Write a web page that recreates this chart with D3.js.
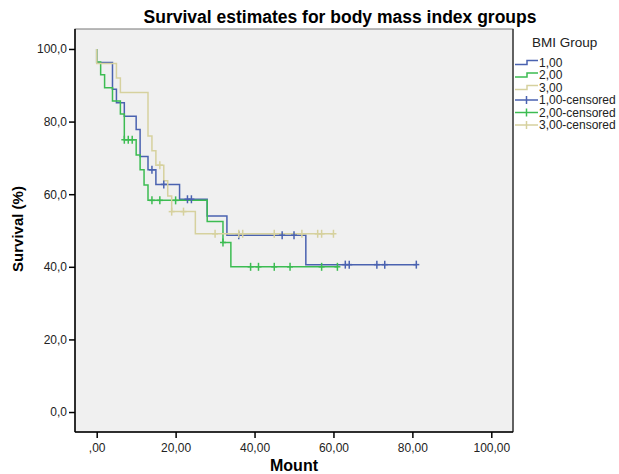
<!DOCTYPE html>
<html>
<head>
<meta charset="utf-8">
<script src="https://cdn.jsdelivr.net/npm/d3@7"></script>
<style>
  html, body { margin: 0; padding: 0; background: #fff; }
  svg { display: block; font-family: "Liberation Sans", Arial, sans-serif; }
</style>
</head>
<body>
<div id="chart"></div>
<script>
// Kaplan-Meier steps (months, survival %)
const groups = ["1,00", "2,00", "3,00"];

const blueTimes = [0, 4, 5, 7, 10, 11, 13, 15, 21, 28, 33, 53];
const blueSurv = [96.3, 88.9, 85.2, 81.5, 77.8, 70.4, 66.7, 62.7, 58.6, 54.0, 48.7, 40.6];
const blueCensored = [14, 17, 23, 24, 36, 47, 50, 63, 64, 71, 73, 81];
const blueEnd = 81;

const greenTimes = [0, 1, 2, 4, 6, 7, 10, 11, 12, 13, 28, 32, 34];
const greenSurv = [96.4, 92.9, 89.3, 85.7, 82.1, 75.0, 70.8, 66.7, 62.5, 58.3, 52.5, 46.7, 40.0];
const greenCensored = [7, 8, 9, 14, 16, 20, 32, 39, 41, 45, 49, 57, 61];
const greenEnd = 61;

const beigeTimes = [0, 5, 6, 13, 14, 15, 17, 18, 19, 25];
const beigeSurv = [96.0, 92.0, 88.0, 76.0, 72.0, 68.0, 63.7, 59.5, 55.2, 49.1];
const beigeCensored = [16, 19, 22, 30, 36, 37, 45, 52, 56, 57, 60];
const beigeEnd = 60;

const xTicks = [0, 20, 40, 60, 80, 100];
const yTicks = [0, 20, 40, 60, 80, 100];

const colors = ["#4a62b0", "#3cbc52", "#d6d19e"];

const series = [
    { name: groups[0], times: blueTimes, surv: blueSurv, censored: blueCensored, end: blueEnd, color: colors[0] },
    { name: groups[1], times: greenTimes, surv: greenSurv, censored: greenCensored, end: greenEnd, color: colors[1] },
    { name: groups[2], times: beigeTimes, surv: beigeSurv, censored: beigeCensored, end: beigeEnd, color: colors[2] }
];

const width = 619, height = 474;
const plot = { left: 75, right: 513, top: 29, bottom: 432 };

const svg = d3.select("#chart").append("svg")
    .attr("width", width)
    .attr("height", height);

const x = d3.scaleLinear().domain([-5.5, 105.5]).range([plot.left, plot.right]);
const y = d3.scaleLinear().domain([-5.5, 105.5]).range([plot.bottom, plot.top]);

// plot background + frame
svg.append("rect")
    .attr("x", plot.left)
    .attr("y", plot.top)
    .attr("width", plot.right - plot.left)
    .attr("height", plot.bottom - plot.top)
    .attr("fill", "#f0f0f0")
    .attr("stroke", "#777")
    .attr("stroke-width", 1);

svg.append("line")
    .attr("x1", plot.right).attr("x2", plot.right)
    .attr("y1", plot.top).attr("y2", plot.bottom)
    .attr("stroke", "#444").attr("stroke-width", 1.5);

// Title
svg.append("text")
    .attr("x", 340)
    .attr("y", 23)
    .attr("text-anchor", "middle")
    .attr("font-size", 17.5)
    .attr("font-weight", "bold")
    .text("Survival estimates for body mass index groups");

// Axes
const xAxis = d3.axisBottom(x)
    .tickValues(xTicks)
    .tickSize(6)
    .tickFormat(d => d === 0 ? ",00" : d.toFixed(2).replace(".", ","));

svg.append("g")
    .attr("transform", `translate(0,${plot.bottom})`)
    .call(xAxis)
    .call(g => g.select(".domain").attr("stroke", "#000").attr("stroke-width", 1.5)
        .attr("d", `M${plot.left},0H${plot.right}`))
    .call(g => g.selectAll(".tick line").attr("stroke", "#000").attr("stroke-width", 1.5))
    .call(g => g.selectAll(".tick text").attr("fill", "#222").attr("font-size", 12)
        .attr("font-family", "Liberation Sans, Arial, sans-serif").attr("dy", "0.95em"));

const yAxis = d3.axisLeft(y)
    .tickValues(yTicks)
    .tickSize(6)
    .tickFormat(d => d.toFixed(1).replace(".", ","));

svg.append("g")
    .attr("transform", `translate(${plot.left},0)`)
    .call(yAxis)
    .call(g => g.select(".domain").attr("stroke", "#000").attr("stroke-width", 1.5)
        .attr("d", `M0,${plot.top}V${plot.bottom}`))
    .call(g => g.selectAll(".tick line").attr("stroke", "#000").attr("stroke-width", 1.5))
    .call(g => g.selectAll(".tick text").attr("fill", "#222").attr("font-size", 12)
        .attr("font-family", "Liberation Sans, Arial, sans-serif").attr("x", -8));

// Axis titles
svg.append("text")
    .attr("x", plot.left + (plot.right - plot.left) / 2)
    .attr("y", 471)
    .attr("text-anchor", "middle")
    .attr("font-size", 16)
    .attr("font-weight", "bold")
    .text("Mount");

svg.append("text")
    .attr("transform", `translate(23,229) rotate(-90)`)
    .attr("text-anchor", "middle")
    .attr("font-size", 15)
    .attr("font-weight", "bold")
    .text("Survival (%)");

// Step curves
const line = d3.line()
    .x(d => x(d[0]))
    .y(d => y(d[1]))
    .curve(d3.curveStepAfter);

const survAt = (s, t) => {
    const i = d3.bisectRight(s.times, t) - 1;
    return i < 0 ? 100 : s.surv[i];
};

series.forEach(s => {
    const pts = [[0, 100]];
    s.times.forEach((t, i) => pts.push([t, s.surv[i]]));
    pts.push([s.end, s.surv[s.surv.length - 1]]);

    svg.append("path")
        .datum(pts)
        .attr("fill", "none")
        .attr("stroke", s.color)
        .attr("stroke-width", 1.5)
        .attr("d", line);
});

// Censored marks (+)
series.forEach(s => {
    const g = svg.append("g").attr("stroke", s.color).attr("stroke-width", 1.5);
    s.censored.forEach(c => {
        const cx = x(c), cy = y(survAt(s, c));
        g.append("line").attr("x1", cx).attr("x2", cx).attr("y1", cy - 4).attr("y2", cy + 4);
        g.append("line").attr("x1", cx - 3).attr("x2", cx + 3).attr("y1", cy).attr("y2", cy);
    });
});

// Legend
const legend = svg.append("g").attr("font-size", 12);
legend.append("text")
    .attr("x", 532)
    .attr("y", 47)
    .attr("font-size", 13.5)
    .attr("fill", "#222")
    .text("BMI Group");

const legendItems = series.map(s => ({ label: s.name, color: s.color, type: "line" }))
    .concat(series.map(s => ({ label: s.name + "-censored", color: s.color, type: "censor" })));

legendItems.forEach((it, i) => {
    const cy = 62.5 + i * 12.5;
    const g = legend.append("g");
    if (it.type === "line") {
        g.append("path")
            .attr("d", `M515,${cy + 2}H527V${cy - 2}H538`)
            .attr("fill", "none")
            .attr("stroke", it.color)
            .attr("stroke-width", 1.5);
    } else {
        g.append("line").attr("x1", 515).attr("x2", 538).attr("y1", cy).attr("y2", cy)
            .attr("stroke", it.color).attr("stroke-width", 1.5);
        g.append("line").attr("x1", 526.5).attr("x2", 526.5).attr("y1", cy - 4).attr("y2", cy + 4)
            .attr("stroke", it.color).attr("stroke-width", 1.5);
    }
    g.append("text")
        .attr("x", 539)
        .attr("y", cy)
        .attr("dy", "0.36em")
        .attr("fill", "#222")
        .text(it.label);
});
</script>
</body>
</html>
